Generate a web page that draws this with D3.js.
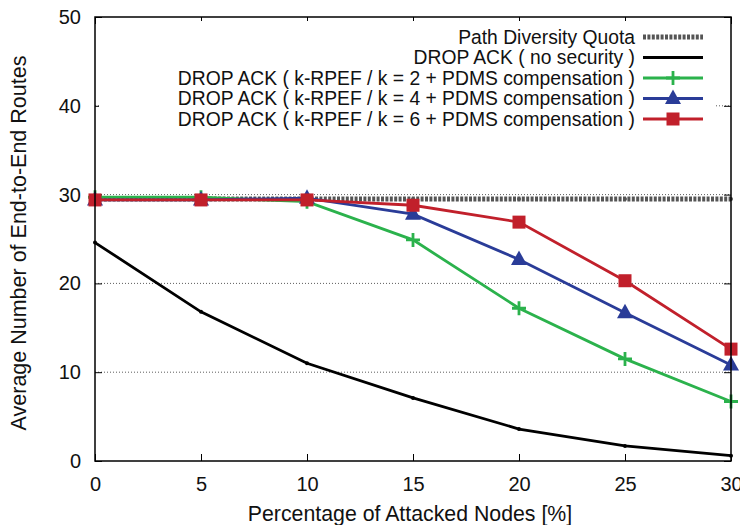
<!DOCTYPE html>
<html>
<head>
<meta charset="utf-8">
<script src="https://cdn.jsdelivr.net/npm/d3@7"></script>
<style>
  body { margin: 0; background: #fff; }
  svg { font-family: "Liberation Sans", Arial, Helvetica, sans-serif; }
</style>
</head>
<body>
<div id="chart"></div>
<script>
// Data
const attacked = [0, 5, 10, 15, 20, 25, 30];
const quota = [29.5, 29.5, 29.5, 29.5, 29.5, 29.5, 29.5];
const noSecurity = [24.6, 16.8, 11.0, 7.1, 3.6, 1.7, 0.6];
const k2 = [29.7, 29.7, 29.2, 24.9, 17.2, 11.5, 6.7];
const k4 = [29.4, 29.4, 29.6, 27.8, 22.7, 16.7, 10.8];
const k6 = [29.4, 29.4, 29.4, 28.8, 26.9, 20.3, 12.6];
const xTicks = [0, 5, 10, 15, 20, 25, 30];
const yTicks = [0, 10, 20, 30, 40, 50];
const seriesNames = [
  'Path Diversity Quota',
  'DROP ACK ( no security )',
  'DROP ACK ( k-RPEF / k = 2 + PDMS compensation )',
  'DROP ACK ( k-RPEF / k = 4 + PDMS compensation )',
  'DROP ACK ( k-RPEF / k = 6 + PDMS compensation )'
];

const W = 740, H = 525;
const margin = { top: 17, right: 9, bottom: 64, left: 95 };
const iw = W - margin.left - margin.right;
const ih = H - margin.top - margin.bottom;

const svg = d3.select('#chart').append('svg')
  .attr('width', W).attr('height', H);
const g = svg.append('g').attr('transform', `translate(${margin.left},${margin.top})`);

const x = d3.scaleLinear().domain([0, 30]).range([0, iw]);
const y = d3.scaleLinear().domain([0, 50]).range([ih, 0]);

// grid lines
g.append('g').selectAll('line')
  .data(yTicks.filter(d => d > 0 && d < 50))
  .join('line')
  .attr('x1', 0).attr('x2', iw)
  .attr('y1', d => y(d)).attr('y2', d => y(d))
  .attr('stroke', '#333').attr('stroke-width', 0.8)
  .attr('stroke-dasharray', '1,2');

// axes with inward ticks
const fs = 20;
const xAxis = g.append('g').attr('transform', `translate(0,${ih})`)
  .call(d3.axisBottom(x).tickValues(xTicks).tickSizeInner(-7).tickSizeOuter(0).tickPadding(16));
const xTop = g.append('g')
  .call(d3.axisTop(x).tickValues(xTicks).tickSizeInner(-7).tickSizeOuter(0).tickFormat(''));
const yAxis = g.append('g')
  .call(d3.axisLeft(y).tickValues(yTicks).tickSizeInner(-7).tickSizeOuter(0).tickPadding(14));
const yRight = g.append('g').attr('transform', `translate(${iw},0)`)
  .call(d3.axisRight(y).tickValues(yTicks).tickSizeInner(-7).tickSizeOuter(0).tickFormat(''));
[xAxis, xTop, yAxis, yRight].forEach(a => {
  a.select('.domain').remove();
  a.selectAll('line').attr('stroke', '#000').attr('stroke-width', 1);
  a.selectAll('text').attr('font-size', fs).attr('font-family', '"Liberation Sans", Arial, sans-serif').attr('fill', '#111');
});
xAxis.selectAll('text').attr('dy', '0.71em');

// legend background (covers grid)
const legX = 548, legY0 = 20, legStep = 20.5;
g.append('rect')
  .attr('x', 4).attr('y', 4).attr('width', 617).attr('height', 108)
  .attr('fill', '#fff');

// series
const line = d3.line().x((d, i) => x(attacked[i])).y(d => y(d));
const series = [
  { vals: quota, color: '#555', width: 5, dash: '3,1.4', marker: 'dot' },
  { vals: noSecurity, color: '#000', width: 2.8, marker: 'dot' },
  { vals: k2, color: '#2bb24c', width: 2.8, marker: 'plus' },
  { vals: k4, color: '#2a3c98', width: 2.8, marker: 'tri' },
  { vals: k6, color: '#c1202b', width: 2.8, marker: 'square' }
];

function drawMarker(sel, type, color) {
  if (type === 'plus') {
    sel.append('path').attr('d', 'M-7,0H7M0,-7V7')
      .attr('stroke', color).attr('stroke-width', 2.8).attr('fill', 'none');
  } else if (type === 'tri') {
    sel.append('path').attr('d', 'M0,-9L8,5.5H-8Z').attr('fill', color);
  } else if (type === 'square') {
    sel.append('rect').attr('x', -6.5).attr('y', -6.5).attr('width', 13).attr('height', 13).attr('fill', color);
  } else {
    sel.append('circle').attr('r', 2).attr('fill', color);
  }
}

series.forEach(s => {
  g.append('path').datum(s.vals)
    .attr('d', line)
    .attr('fill', 'none')
    .attr('stroke', s.color)
    .attr('stroke-width', s.width)
    .attr('stroke-dasharray', s.dash || null);
  g.append('g').selectAll('g')
    .data(s.vals)
    .join('g')
    .attr('transform', (d, i) => `translate(${x(attacked[i])},${y(d)})`)
    .each(function () { drawMarker(d3.select(this), s.marker, s.color); });
});

// legend
series.forEach((s, i) => {
  const ly = legY0 + i * legStep;
  g.append('text')
    .attr('x', legX - 8).attr('y', ly).attr('dy', '0.35em')
    .attr('text-anchor', 'end').attr('font-size', 19.3).attr('fill', '#111')
    .text(seriesNames[i]);
  g.append('line')
    .attr('x1', legX).attr('x2', legX + 60).attr('y1', ly).attr('y2', ly)
    .attr('stroke', s.color).attr('stroke-width', s.width)
    .attr('stroke-dasharray', s.dash || null);
  if (s.marker !== 'dot') {
    const mg = g.append('g').attr('transform', `translate(${legX + 30},${ly})`);
    drawMarker(mg, s.marker, s.color);
  }
});

// frame
g.append('rect')
  .attr('width', iw).attr('height', ih)
  .attr('fill', 'none').attr('stroke', '#000').attr('stroke-width', 1.5);

// axis titles
svg.append('text')
  .attr('x', margin.left + iw / 2 - 3).attr('y', 521)
  .attr('text-anchor', 'middle').attr('font-size', 21.3).attr('fill', '#111')
  .text('Percentage of Attacked Nodes [%]');
svg.append('text')
  .attr('transform', `translate(26,${margin.top + ih / 2 + 4}) rotate(-90)`)
  .attr('text-anchor', 'middle').attr('font-size', 21.5).attr('fill', '#111')
  .text('Average Number of End-to-End Routes');
</script>
</body>
</html>
